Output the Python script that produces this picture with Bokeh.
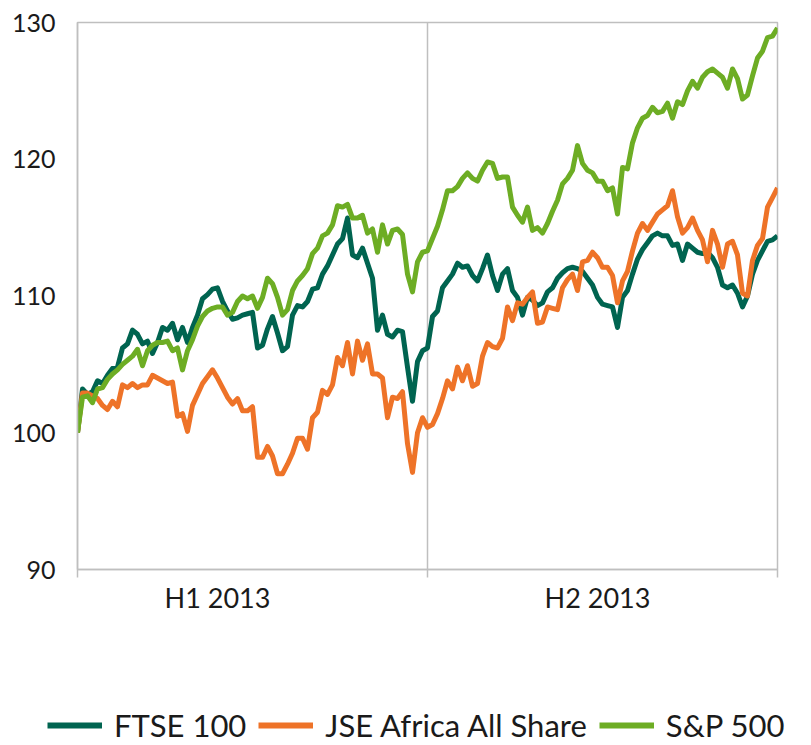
from bokeh.plotting import figure
from bokeh.models import Range1d, FixedTicker, Legend, LegendItem, ColumnDataSource
from bokeh.embed import file_html
from bokeh.resources import INLINE

# Rebased index values (start = 100), sampled evenly through 2013
ftse = [100.0, 103.2, 102.8, 103.0, 103.8, 103.6, 104.2, 104.7, 104.8, 106.2,
        106.5, 107.5, 107.2, 106.5, 106.7, 105.8, 106.6, 107.7, 107.5, 108.0,
        106.8, 107.7, 106.6, 107.7, 108.6, 109.8, 110.1, 110.5, 110.6, 109.6,
        108.9, 108.3, 108.4, 108.6, 108.7, 108.8, 106.2, 106.4, 107.6, 108.5,
        107.3, 106.0, 106.3, 108.6, 109.3, 109.2, 109.6, 110.5, 110.6, 111.6,
        112.2, 113.0, 113.8, 114.2, 115.7, 113.0, 112.8, 113.5, 112.4, 111.3,
        107.5, 108.6, 107.2, 107.0, 107.5, 107.4, 104.8, 102.3, 105.2, 106.0,
        106.2, 108.5, 108.9, 110.6, 111.1, 111.6, 112.4, 112.1, 112.2, 111.5,
        111.1, 112.0, 113.0, 111.5, 110.4, 111.6, 112.0, 110.4, 109.9, 108.6,
        109.9, 109.7, 109.3, 109.5, 110.3, 110.6, 111.3, 111.7, 112.0, 112.1,
        112.0, 111.8, 111.3, 110.8, 109.9, 109.4, 109.3, 109.2, 107.7, 109.9,
        110.4, 111.6, 112.7, 113.4, 113.9, 114.4, 114.6, 114.4, 114.4, 113.7,
        113.8, 112.6, 113.8, 113.5, 113.2, 113.1, 113.2, 112.8, 112.1, 110.8,
        110.6, 110.8, 110.2, 109.2, 110.0, 111.6, 112.6, 113.3, 114.0, 114.1,
        114.4]

jse = [100.0, 102.9, 102.9, 102.7, 102.5, 102.0, 101.7, 102.3, 101.9, 103.5,
       103.3, 103.6, 103.3, 103.5, 103.5, 104.2, 104.0, 103.8, 103.6, 103.7,
       101.2, 101.4, 100.1, 102.0, 102.8, 103.6, 104.1, 104.6, 104.0, 103.3,
       102.6, 102.1, 102.5, 101.6, 101.6, 101.9, 98.2, 98.2, 99.0, 98.3,
       97.0, 97.0, 97.7, 98.5, 99.6, 99.6, 98.8, 101.1, 101.5, 103.1,
       102.8, 103.5, 105.5, 104.9, 106.6, 104.3, 106.7, 105.3, 106.5, 104.3,
       104.3, 104.0, 101.1, 102.6, 102.5, 103.0, 99.2, 97.1, 100.0, 101.1,
       100.4, 100.6, 101.4, 102.5, 103.8, 103.2, 104.8, 103.8, 104.9, 103.4,
       103.6, 105.6, 106.6, 106.3, 106.2, 106.9, 109.2, 108.2, 109.5, 109.4,
       109.9, 110.3, 108.0, 108.1, 109.2, 109.1, 109.0, 110.6, 111.2, 111.6,
       110.4, 112.5, 112.6, 113.2, 112.8, 112.1, 112.1, 111.5, 109.5, 111.1,
       111.8, 113.3, 114.6, 115.3, 114.8, 115.4, 116.0, 116.3, 116.6, 117.7,
       115.8, 114.6, 115.0, 115.7, 114.8, 114.1, 112.5, 114.8, 113.8, 112.1,
       113.8, 114.0, 113.0, 110.2, 110.0, 112.6, 113.7, 114.2, 116.5, 117.2,
       117.9]

sp500 = [100.0, 102.6, 102.7, 102.2, 103.2, 103.3, 103.9, 104.3, 104.6, 105.0,
         105.3, 105.6, 106.1, 104.9, 106.0, 106.4, 106.6, 106.6, 106.7, 106.0,
         106.2, 104.6, 106.0, 106.8, 107.8, 108.5, 108.9, 109.1, 109.2, 109.2,
         108.6, 108.8, 109.6, 110.0, 109.8, 110.0, 109.1, 109.9, 111.3, 110.9,
         109.9, 108.6, 109.0, 110.4, 111.1, 111.5, 112.0, 113.1, 113.5, 114.4,
         114.6, 115.2, 116.6, 116.5, 116.7, 115.7, 115.7, 115.9, 114.6, 114.9,
         113.2, 115.2, 113.8, 114.8, 114.9, 114.5, 111.6, 110.3, 112.5, 113.2,
         113.3, 114.2, 115.1, 116.3, 117.7, 117.7, 118.0, 118.6, 119.0, 118.6,
         118.4, 119.2, 119.8, 119.7, 118.6, 118.7, 118.7, 116.5, 115.9, 115.4,
         116.5, 114.8, 115.0, 114.6, 115.3, 116.2, 117.0, 118.2, 118.6, 119.2,
         121.0, 119.7, 119.2, 119.0, 118.4, 118.4, 117.7, 117.9, 116.0, 119.4,
         119.3, 121.2, 122.3, 123.0, 123.2, 123.8, 123.4, 123.5, 124.1, 123.0,
         124.2, 124.0, 125.0, 125.7, 125.2, 126.0, 126.4, 126.6, 126.3, 126.0,
         125.2, 126.6, 125.9, 124.4, 124.7, 126.1, 127.4, 127.9, 128.9, 129.0,
         129.6]

days = list(range(len(ftse)))
series_names = ["FTSE 100", "JSE Africa All Share", "S&P 500"]
series_colors = ["#006450", "#EE7328", "#6DAD24"]
y_ticks = [90, 100, 110, 120, 130]
period_labels = ["H1 2013", "H2 2013"]
period_label_pos = [28, 104]

n_last = days[-1]
mid = n_last / 2
FONT = "Lato"
GRAY = "#BFBFBF"
TEXT = "#1A1A1A"

p = figure(width=795, height=640, output_backend="svg", toolbar_location=None,
           x_range=Range1d(0, n_last), y_range=Range1d(90, 130),
           min_border_left=77, min_border_right=18, min_border_top=22,
           min_border_bottom=71)
p.outline_line_color = GRAY
p.outline_line_width = 1.5
p.background_fill_color = "white"
p.border_fill_color = "white"

src = ColumnDataSource(dict(day=days, ftse=ftse, jse=jse, sp=sp500))
for col, color in zip(["ftse", "jse", "sp"], series_colors):
    p.line("day", col, source=src, line_color=color, line_width=5,
           line_join="round")

# axes
p.yaxis.ticker = FixedTicker(ticks=y_ticks)
p.yaxis.axis_line_color = GRAY
p.yaxis.axis_line_width = 1.5
p.yaxis.major_tick_line_color = None
p.yaxis.minor_tick_line_color = None
p.yaxis.major_label_standoff = 16
p.yaxis.major_label_text_font = FONT
p.yaxis.major_label_text_font_size = "25px"
p.yaxis.major_label_text_color = TEXT

p.xaxis.ticker = FixedTicker(ticks=period_label_pos, minor_ticks=[0, mid, n_last])
p.xaxis.major_label_overrides = {pos: lab for pos, lab in zip(period_label_pos, period_labels)}
p.xaxis.axis_line_color = GRAY
p.xaxis.axis_line_width = 1.5
p.xaxis.major_tick_line_color = None
p.xaxis.minor_tick_line_color = GRAY
p.xaxis.minor_tick_line_width = 1.5
p.xaxis.minor_tick_in = 0
p.xaxis.minor_tick_out = 8
p.xaxis.major_label_standoff = 3
p.xaxis.major_label_text_font = FONT
p.xaxis.major_label_text_font_size = "27px"
p.xaxis.major_label_text_color = TEXT

p.ygrid.grid_line_color = None
p.xgrid.ticker = FixedTicker(ticks=[mid])
p.xgrid.grid_line_color = GRAY
p.xgrid.grid_line_width = 1.5

# legend strip below the chart (separate root so its frame spans full width)
leg = figure(width=795, height=104, output_backend="svg", toolbar_location=None,
             x_range=Range1d(0, 1), y_range=Range1d(0, 1),
             min_border_left=0, min_border_right=0, min_border_top=0,
             min_border_bottom=0)
leg.axis.visible = False
leg.grid.visible = False
leg.outline_line_color = None
leg.border_fill_color = "white"
placeholder = ColumnDataSource(dict(x=[float("nan")], y=[float("nan")]))
items = []
for name, color in zip(series_names, series_colors):
    r = leg.line("x", "y", source=placeholder, line_color=color, line_width=6)
    items.append(LegendItem(label=name, renderers=[r]))

legend = Legend(items=items, orientation="horizontal", location=(47, 0),
                glyph_width=55, label_standoff=12, spacing=12, padding=0,
                margin=0, border_line_color=None, background_fill_alpha=0,
                label_text_font=FONT, label_text_font_size="31px",
                label_text_color=TEXT)
leg.add_layout(legend, "center")

open("out.html", "w").write(file_html([p, leg], INLINE))
